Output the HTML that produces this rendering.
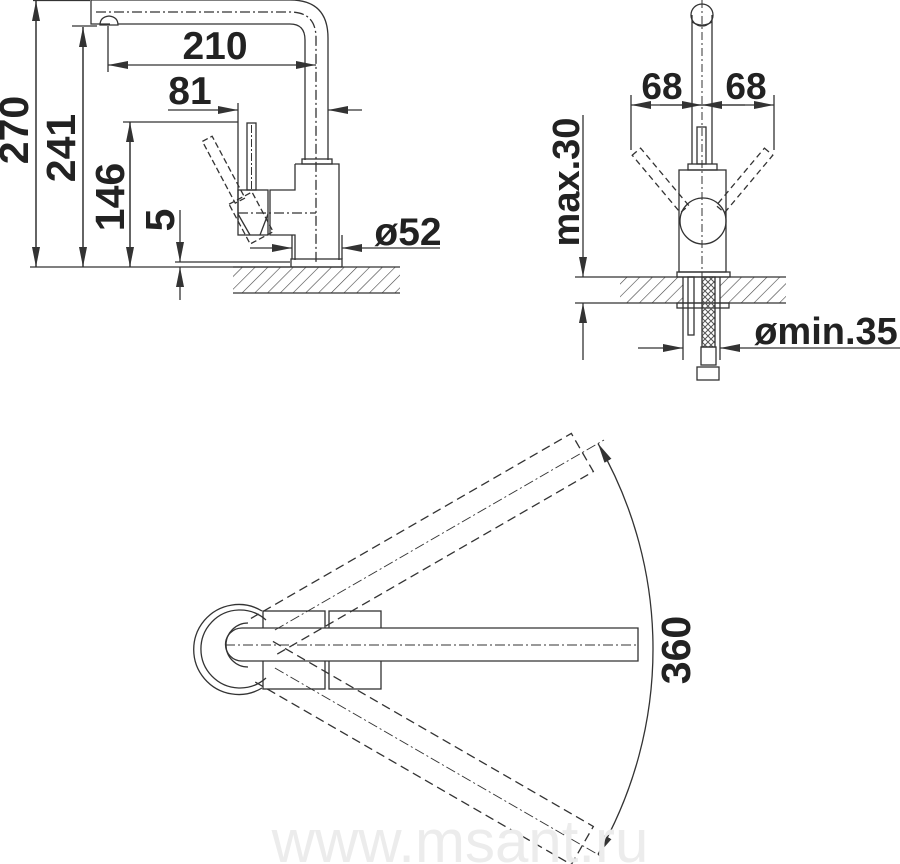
<!DOCTYPE html>
<html><head><meta charset="utf-8"><style>
html,body{margin:0;padding:0;background:#fff}
svg{display:block}
text{font-family:"Liberation Sans",Arial,sans-serif;font-weight:bold;fill:#222}
</style></head><body>
<svg width="900" height="864" viewBox="0 0 900 864" xmlns="http://www.w3.org/2000/svg">
<defs>
<pattern id="h" width="9" height="9" patternUnits="userSpaceOnUse" patternTransform="rotate(45)">
<line x1="0" y1="0" x2="0" y2="9" stroke="#444" stroke-width="1.2"/>
</pattern>
<marker id="a" viewBox="0 0 20 8" refX="20" refY="4" markerWidth="20" markerHeight="8" markerUnits="userSpaceOnUse" orient="auto">
<path d="M0,0 L20,4 L0,8 Z" fill="#333"/>
</marker>
<pattern id="br" width="6" height="6" patternUnits="userSpaceOnUse">
<path d="M0,0 L6,6 M6,0 L0,6" stroke="#555" stroke-width="1"/>
</pattern>
</defs>
<g stroke="#333" stroke-width="1.3" fill="none">
<line x1="30" y1="267" x2="290" y2="267"/>
<line x1="33" y1="0.5" x2="90" y2="0.5"/>
<line x1="72" y1="26" x2="97" y2="26"/>
<line x1="36" y1="267" x2="36" y2="1" marker-end="url(#a)"/>
<line x1="36" y1="1" x2="36" y2="267" marker-end="url(#a)"/>
<line x1="83" y1="267" x2="83" y2="27" marker-end="url(#a)"/>
<line x1="83" y1="27" x2="83" y2="267" marker-end="url(#a)"/>
<line x1="130" y1="267" x2="130" y2="122" marker-end="url(#a)"/>
<line x1="130" y1="122" x2="130" y2="267" marker-end="url(#a)"/>
<line x1="123" y1="122" x2="238" y2="122"/>
<line x1="180" y1="210" x2="180" y2="262" marker-end="url(#a)"/>
<line x1="180" y1="300" x2="180" y2="267" marker-end="url(#a)"/>
<line x1="175" y1="262" x2="290" y2="262"/>
<path d="M91,0 L91,24 L110,24 M118,24 L290,24 Q305,24 305,40 L305,160"/>
<path d="M91,0 L290,0 Q328,0 328,38 L328,160"/>
<path d="M96,12 L290,12 Q316,12 316,38 L316,262" stroke-dasharray="10,3,2,3"/>
<path d="M100,25 Q100,17 109,16 Q118,17 118,25 Z"/>
<line x1="108" y1="26" x2="108" y2="72"/>
<line x1="180" y1="65" x2="108" y2="65" marker-end="url(#a)"/>
<line x1="250" y1="65" x2="316" y2="65" marker-end="url(#a)"/>
<line x1="180" y1="65" x2="250" y2="65"/>
<line x1="238" y1="103" x2="238" y2="220"/>
<line x1="168" y1="110" x2="238" y2="110" marker-end="url(#a)"/>
<line x1="362" y1="110" x2="328" y2="110" marker-end="url(#a)"/>
<rect x="302" y="159" width="30" height="5"/>
<path d="M295,164 L339,164 L339,260 M295,164 L295,190 L270,190 L270,235 L295,235 L295,260"/>
<rect x="291" y="259" width="51" height="8"/>
<rect x="238" y="190" width="30" height="45"/>
<path d="M238,214 L250,235 M268,214 L260,235"/>
<line x1="238" y1="213" x2="316" y2="213" stroke-dasharray="10,3,2,3"/>
<rect x="247" y="123" width="9" height="67"/>
<line x1="251.5" y1="125" x2="251.5" y2="190" stroke-dasharray="8,2,2,2" stroke-width="1"/>
<g transform="rotate(-28 235 192)" stroke-dasharray="6,3">
<rect x="230" y="132" width="11" height="70"/>
<rect x="224" y="200" width="26" height="45"/>
</g>
<line x1="292" y1="235" x2="292" y2="259"/>
<line x1="342" y1="235" x2="342" y2="259"/>
<line x1="250" y1="248" x2="292" y2="248" marker-end="url(#a)"/>
<line x1="440" y1="248" x2="342" y2="248" marker-end="url(#a)"/>
<rect x="233" y="267" width="167" height="26" fill="url(#h)" stroke="none"/>
<line x1="233" y1="267" x2="400" y2="267"/>
<line x1="233" y1="293" x2="400" y2="293"/>

<circle cx="702" cy="15" r="11"/>
<path d="M692,15 L692,164 M712,15 L712,164"/>
<path d="M692,22 Q702,28 712,22"/>
<line x1="702" y1="0" x2="702" y2="290" stroke-dasharray="8,3,2,3" stroke-width="1"/>
<rect x="697" y="127" width="9" height="37"/>
<rect x="688" y="164" width="29" height="6"/>
<rect x="679" y="170" width="47" height="102"/>
<circle cx="703" cy="221" r="23"/>
<g stroke-dasharray="6,4">
<g transform="rotate(-40 636 152)"><rect x="631" y="152" width="11" height="75"/></g>
<g transform="rotate(40 769 152)"><rect x="763" y="152" width="11" height="75"/></g>
</g>
<line x1="631" y1="95" x2="631" y2="150"/>
<line x1="774" y1="95" x2="774" y2="150"/>
<line x1="660" y1="105" x2="631" y2="105" marker-end="url(#a)"/>
<line x1="660" y1="105" x2="702" y2="105" marker-end="url(#a)"/>
<line x1="745" y1="105" x2="702" y2="105" marker-end="url(#a)"/>
<line x1="745" y1="105" x2="774" y2="105" marker-end="url(#a)"/>
<line x1="660" y1="105" x2="745" y2="105"/>
<rect x="677" y="272" width="53" height="5"/>
<rect x="620" y="277" width="63" height="26" fill="url(#h)" stroke="none"/>
<rect x="720" y="277" width="66" height="26" fill="url(#h)" stroke="none"/>
<line x1="575" y1="277" x2="786" y2="277"/>
<line x1="575" y1="303" x2="786" y2="303"/>
<line x1="683" y1="277" x2="683" y2="360"/>
<line x1="720" y1="277" x2="720" y2="360"/>
<rect x="677" y="303" width="52" height="5"/>
<rect x="688" y="277" width="6" height="58"/>
<rect x="702" y="277" width="13" height="70" fill="url(#br)"/>
<rect x="701" y="347" width="15" height="18"/>
<rect x="697" y="367" width="22" height="13"/>
<line x1="583" y1="115" x2="583" y2="277" marker-end="url(#a)"/>
<line x1="583" y1="360" x2="583" y2="303" marker-end="url(#a)"/>
<line x1="638" y1="348" x2="683" y2="348" marker-end="url(#a)"/>
<line x1="900" y1="348" x2="720" y2="348" marker-end="url(#a)"/>

<path d="M262,611 A45,45 0 1 0 262,688"/>
<path d="M266,620 A39,39 0 1 0 266,678"/>
<rect x="263" y="611" width="62" height="78"/>
<rect x="329" y="611" width="52" height="78"/>
<path d="M242,628 L638,628 L638,661 L242,661" fill="#fff"/>
<path d="M242,628 A16.5,16.5 0 0 0 242,661"/>
<path d="M248,623 A22,22 0 0 0 248,667"/>
<line x1="225" y1="645" x2="638" y2="645" stroke-dasharray="10,3,2,3" stroke-width="1"/>
<g stroke-dasharray="9,5">
<g transform="rotate(-30 242 649)"><path d="M265,627 L635,627 L635,671 L265,671"/></g>
<g transform="rotate(30 242 649)"><path d="M265,627 L635,627 L635,671 L265,671"/></g>
</g>
<g stroke-dasharray="10,3,2,3" stroke-width="1">
<g transform="rotate(-30 242 649)"><line x1="280" y1="649" x2="660" y2="649"/></g>
<g transform="rotate(30 242 649)"><line x1="280" y1="649" x2="660" y2="649"/></g>
</g>
<path d="M653,649 A411,411 0 0 0 598,443.5" marker-end="url(#a)"/>
<path d="M653,649 A411,411 0 0 1 598,854.5" marker-end="url(#a)"/>
</g>
<text x="215" y="59" font-size="39" text-anchor="middle">210</text>
<text x="190" y="104" font-size="39" text-anchor="middle">81</text>
<text x="408" y="245" font-size="39" text-anchor="middle">ø52</text>
<text transform="translate(28,130) rotate(-90)" font-size="41" text-anchor="middle">270</text>
<text transform="translate(75,148) rotate(-90)" font-size="41" text-anchor="middle">241</text>
<text transform="translate(124,197) rotate(-90)" font-size="41" text-anchor="middle">146</text>
<text transform="translate(174,220) rotate(-90)" font-size="41" text-anchor="middle">5</text>
<text x="662" y="99" font-size="37" text-anchor="middle">68</text>
<text x="746" y="99" font-size="37" text-anchor="middle">68</text>
<text transform="translate(579,182) rotate(-90)" font-size="38" text-anchor="middle">max.30</text>
<text x="826" y="344" font-size="38" text-anchor="middle">ømin.35</text>
<text transform="translate(690,650) rotate(-90)" font-size="41" text-anchor="middle">360</text>
<text x="460" y="862" font-size="60" text-anchor="middle" style="font-weight:normal;fill:#ececec">www.msant.ru</text>
</svg>
</body></html>
